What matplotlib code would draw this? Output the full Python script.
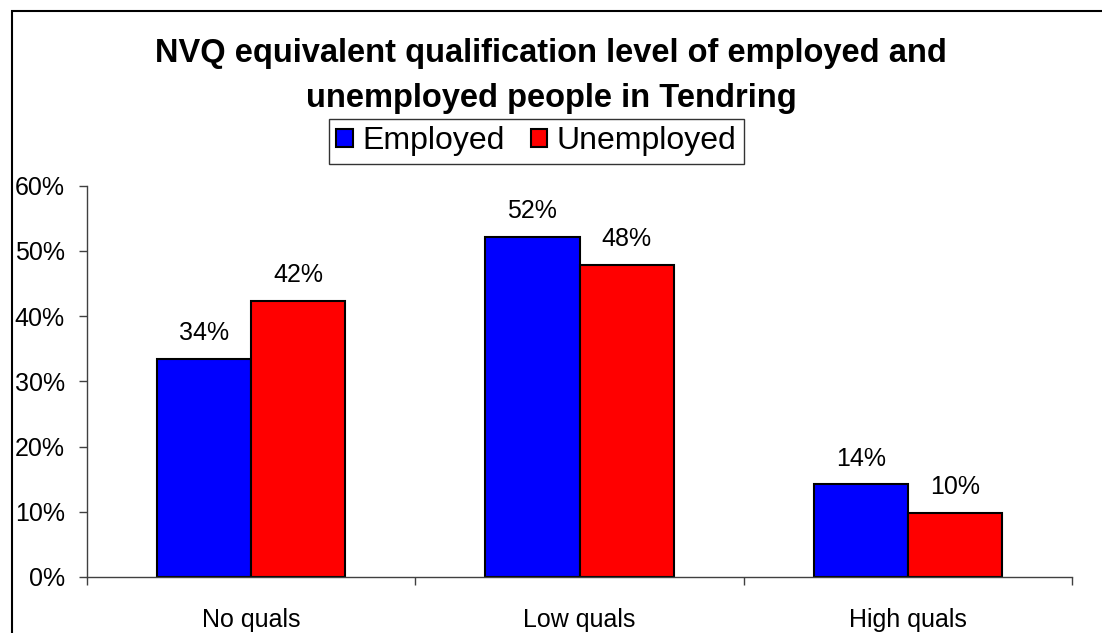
import numpy as np
import matplotlib
matplotlib.use("Agg")
import matplotlib.pyplot as plt
from matplotlib.patches import Rectangle
from matplotlib.ticker import PercentFormatter

plt.rcParams["font.family"] = ["Liberation Sans", "DejaVu Sans"]

categories = ["No quals", "Low quals", "High quals"]
employed = [33.5, 52.2, 14.2]
unemployed = [42.3, 47.9, 9.8]
employed_labels = ["34%", "52%", "14%"]
unemployed_labels = ["42%", "48%", "10%"]

fig = plt.figure(figsize=(11.02, 6.33), dpi=100)
ax = fig.add_axes([87 / 1102, 1 - 577 / 633, (1072 - 87) / 1102, (577 - 185.7) / 633])

x = np.arange(len(categories))
w = 0.287
b1 = ax.bar(x - w / 2, employed, w, color="#0000ff", edgecolor="black", linewidth=1.5, label="Employed")
b2 = ax.bar(x + w / 2, unemployed, w, color="#ff0000", edgecolor="black", linewidth=1.5, label="Unemployed")

for bars, labels in [(b1, employed_labels), (b2, unemployed_labels)]:
    for rect, lab in zip(bars, labels):
        ax.annotate(lab, (rect.get_x() + rect.get_width() / 2, rect.get_height()),
                    xytext=(0, 13.5), textcoords="offset points",
                    ha="center", va="baseline", fontsize=18)

ax.set_xlim(-0.5, 2.5)
ax.set_ylim(0, 60)
ax.set_yticks(np.arange(0, 61, 10))
ax.yaxis.set_major_formatter(PercentFormatter(decimals=0))
ax.tick_params(axis="y", labelsize=18, length=6, width=1, color="#404040", pad=10)

ax.set_xticks([-0.5, 0.5, 1.5, 2.5])
ax.set_xticklabels([])
ax.set_xticks(x, minor=True)
ax.set_xticklabels(categories, minor=True)
ax.tick_params(axis="x", which="major", length=6, width=1, color="#404040")
ax.tick_params(axis="x", which="minor", length=0, labelsize=18, pad=22)

for s in ["top", "right"]:
    ax.spines[s].set_visible(False)
for s in ["left", "bottom"]:
    ax.spines[s].set_color("#404040")
    ax.spines[s].set_linewidth(1)

fig.text(0.5, 1 - 76 / 633,
         "NVQ equivalent qualification level of employed and\nunemployed people in Tendring",
         ha="center", va="center", fontsize=23.5, fontweight="bold", linespacing=1.62)

leg = fig.legend(handles=[b1, b2], loc="center", bbox_to_anchor=(536.5 / 1102, 1 - 141.5 / 633),
                 ncol=2, fontsize=23, frameon=True, fancybox=False, edgecolor="black",
                 handlelength=0.52, handleheight=0.52, handletextpad=0.3, columnspacing=0.8,
                 borderpad=0.22, borderaxespad=0)
leg.get_frame().set_linewidth(1)

fig.patches.append(Rectangle((12 / 1102, -0.1), 2, 1 - 11 / 633 + 0.1, transform=fig.transFigure,
                             fill=False, edgecolor="black", linewidth=1.5))

fig.savefig("out.png", dpi=100)
